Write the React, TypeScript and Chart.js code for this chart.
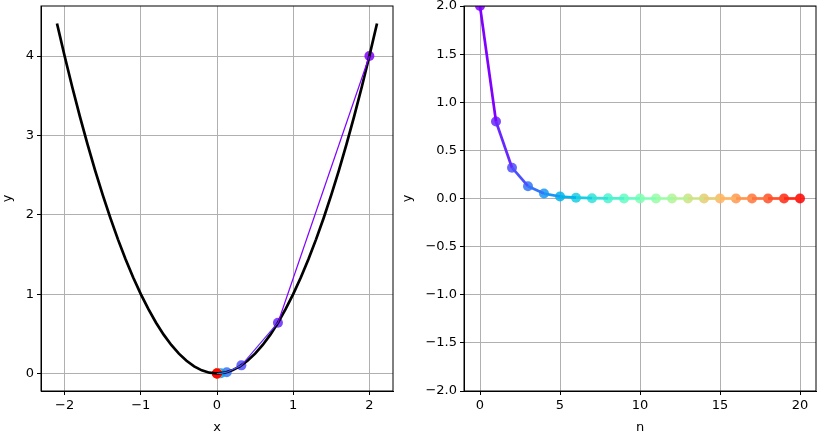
import { useEffect, useRef } from "react";
import Chart from "chart.js/auto";

// y = x^2 curve (left panel)
const curveX = [
  -2.1, -2.0, -1.9, -1.8, -1.7, -1.6, -1.5, -1.4, -1.3, -1.2, -1.1, -1.0, -0.9, -0.8, -0.7,
  -0.6, -0.5, -0.4, -0.3, -0.2, -0.1, 0.0, 0.1, 0.2, 0.3, 0.4, 0.5, 0.6, 0.7, 0.8, 0.9, 1.0,
  1.1, 1.2, 1.3, 1.4, 1.5, 1.6, 1.7, 1.8, 1.9, 2.0, 2.1,
];
const curveY = [
  4.41, 4.0, 3.61, 3.24, 2.89, 2.56, 2.25, 1.96, 1.69, 1.44, 1.21, 1.0, 0.81, 0.64, 0.49,
  0.36, 0.25, 0.16, 0.09, 0.04, 0.01, 0.0, 0.01, 0.04, 0.09, 0.16, 0.25, 0.36, 0.49, 0.64,
  0.81, 1.0, 1.21, 1.44, 1.69, 1.96, 2.25, 2.56, 2.89, 3.24, 3.61, 4.0, 4.41,
];

// iterates
const stepN = [0, 1, 2, 3, 4, 5, 6, 7, 8, 9, 10, 11, 12, 13, 14, 15, 16, 17, 18, 19, 20];
const stepX = [
  2.0, 0.8, 0.32, 0.128, 0.0512, 0.0205, 0.0082, 0.0033, 0.0013, 0.0005, 0.0002, 0.0001,
  0.00003, 0.00001, 0.0, 0.0, 0.0, 0.0, 0.0, 0.0, 0.0,
];
const stepY = [
  4.0, 0.64, 0.1024, 0.0164, 0.0026, 0.0004, 0.0001, 0.0, 0.0, 0.0, 0.0, 0.0, 0.0, 0.0, 0.0,
  0.0, 0.0, 0.0, 0.0, 0.0, 0.0,
];

// matplotlib "rainbow" colormap
function rainbow(t: number, alpha = 1) {
  const clamp = (v: number) => Math.max(0, Math.min(1, v));
  const r = clamp(Math.abs(2 * t - 0.5));
  const g = clamp(Math.sin(Math.PI * t));
  const b = clamp(Math.cos((Math.PI * t) / 2));
  return `rgba(${Math.round(r * 255)}, ${Math.round(g * 255)}, ${Math.round(b * 255)}, ${alpha})`;
}
const lineColors = stepN.map((_, i) => rainbow(i / (stepN.length - 1)));
const dotColors = stepN.map((_, i) => rainbow(i / (stepN.length - 1), 0.85));

const FONT = { family: "'DejaVu Sans', sans-serif", size: 13 };

const framePlugin = {
  id: "frame",
  afterDraw(chart: any) {
    const { ctx, chartArea: a } = chart;
    ctx.save();
    ctx.strokeStyle = "#000";
    ctx.lineWidth = 1;
    ctx.strokeRect(a.left, a.top, a.right - a.left, a.bottom - a.top);
    ctx.restore();
  },
};

function axis(
  horizontal: boolean,
  min: number,
  max: number,
  step: number,
  title: string,
  size: number,
  fmt: (v: number) => string
) {
  return {
    type: "linear",
    position: horizontal ? "bottom" : "left",
    min,
    max,
    afterFit: (s: any) => {
      if (horizontal) {
        s.height = size;
        s.paddingLeft = 0;
        s.paddingRight = 0;
      } else {
        s.width = size;
        s.paddingTop = 0;
        s.paddingBottom = 0;
      }
    },
    ticks: {
      stepSize: step,
      includeBounds: false,
      autoSkip: false,
      maxRotation: 0,
      color: "#000",
      font: FONT,
      padding: 3,
      callback: (v: number) => fmt(v).replace("-", "\u2212"),
    },
    grid: { color: "#b0b0b0", lineWidth: 1, tickLength: 4, tickColor: "#000" },
    border: { color: "#000" },
    title: { display: true, text: title, color: "#000", font: FONT, padding: 0 },
  };
}

function Panel({ left, width, build }: { left: number; width: number; build: () => any }) {
  const canvasRef = useRef<HTMLCanvasElement>(null);
  useEffect(() => {
    if (!canvasRef.current) return;
    const chart = new Chart(canvasRef.current, build());
    return () => chart.destroy();
  }, []);
  return (
    <div style={{ position: "absolute", left, top: 0, width, height: 435 }}>
      <canvas ref={canvasRef} />
    </div>
  );
}

const basePlugins = { legend: { display: false }, tooltip: { enabled: false } };

function leftConfig() {
  return {
    type: "scatter",
    data: {
      datasets: [
        {
          data: stepX.map((x, i) => ({ x, y: stepY[i] })),
          showLine: true,
          borderWidth: 1.2,
          pointRadius: 0,
          segment: { borderColor: (c: any) => lineColors[c.p0DataIndex] },
          order: 0,
        },
        {
          data: curveX.map((x, i) => ({ x, y: curveY[i] })),
          showLine: true,
          borderColor: "#000",
          borderWidth: 2.7,
          pointRadius: 0,
          order: 1,
        },
        {
          data: stepX.map((x, i) => ({ x, y: stepY[i] })),
          showLine: false,
          pointRadius: 5,
          pointBorderWidth: 0,
          pointBackgroundColor: dotColors,
          order: 2,
        },
      ],
    },
    options: {
      animation: false,
      responsive: true,
      maintainAspectRatio: false,
      layout: { padding: { top: 6, right: 7, left: 0, bottom: 0 } },
      plugins: basePlugins,
      scales: {
        x: axis(true, -2.31, 2.31, 1, "x", 44, (v) => String(v)),
        y: axis(false, -0.2205, 4.6305, 1, "y", 41, (v) => String(v)),
      },
    },
    plugins: [framePlugin],
  };
}

function rightConfig() {
  return {
    type: "scatter",
    data: {
      datasets: [
        {
          data: stepN.map((n, i) => ({ x: n, y: stepX[i] })),
          showLine: true,
          borderWidth: 2.7,
          pointRadius: 0,
          segment: { borderColor: (c: any) => lineColors[c.p0DataIndex] },
          order: 0,
        },
        {
          data: stepN.map((n, i) => ({ x: n, y: stepX[i] })),
          showLine: false,
          pointRadius: 5,
          pointBorderWidth: 0,
          pointBackgroundColor: dotColors,
          order: 1,
        },
      ],
    },
    options: {
      animation: false,
      responsive: true,
      maintainAspectRatio: false,
      layout: { padding: { top: 6, right: 6, left: 0, bottom: 0 } },
      plugins: basePlugins,
      scales: {
        x: axis(true, -1, 21, 5, "n", 44, (v) => String(v)),
        y: axis(false, -2, 2, 0.5, "y", 64, (v) => v.toFixed(1)),
      },
    },
    plugins: [framePlugin],
  };
}

export default function App() {
  return (
    <div
      style={{
        position: "fixed",
        left: 0,
        top: 0,
        width: 822,
        height: 435,
        background: "#fff",
        overflow: "hidden",
      }}
    >
      <Panel left={0} width={400} build={leftConfig} />
      <Panel left={400} width={422} build={rightConfig} />
    </div>
  );
}
